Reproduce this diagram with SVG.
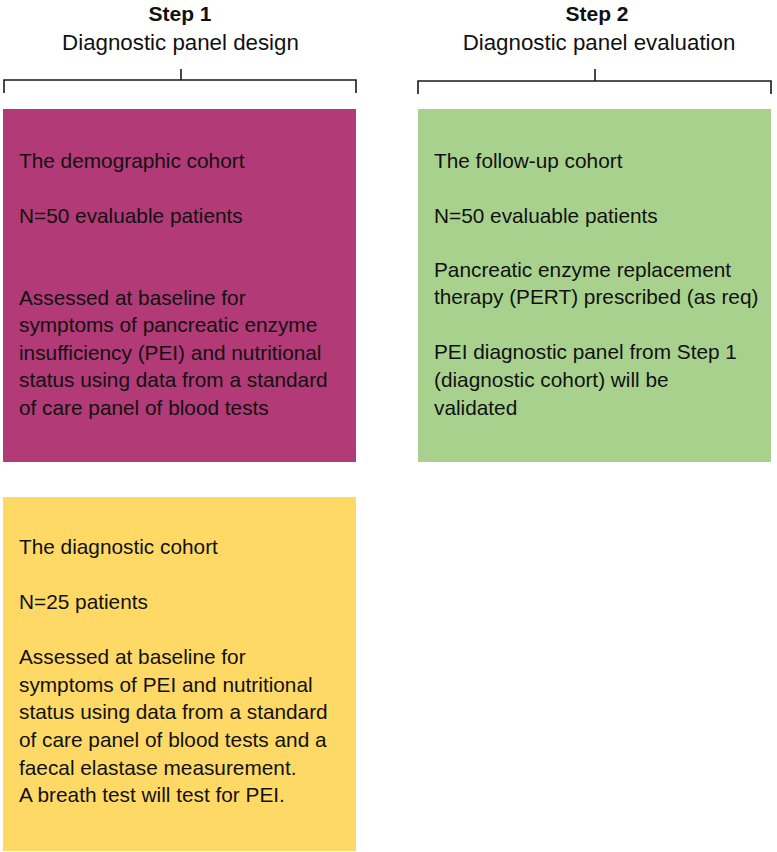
<svg xmlns="http://www.w3.org/2000/svg" width="777" height="852" viewBox="0 0 777 852">
<style>
text{font-family:"Liberation Sans",Arial,sans-serif;fill:#111;}
.step{font-weight:bold;font-size:21px;text-anchor:middle;}
.sub{font-size:22.3px;text-anchor:middle;}
.body{font-size:20.8px;}
.br{fill:none;stroke:#1a1a1a;stroke-width:1.6;}
</style>
<rect width="777" height="852" fill="#ffffff"/>
<g id="header1">
<text class="step" x="180" y="21">Step 1</text>
<text class="sub" x="180.5" y="50">Diagnostic panel design</text>
</g>
<g id="header2">
<text class="step" x="597" y="21">Step 2</text>
<text class="sub" x="599" y="50">Diagnostic panel evaluation</text>
</g>
<g id="connectors">
<path class="br" d="M4 93 V80 H356 V93 M181 69 V80"/>
<path class="br" d="M418 94 V81 H771 V94 M595 69 V81"/>
</g>
<g id="demographic">
<rect x="3" y="109" width="353" height="353" fill="#B23A77"/>
<text class="body" x="19" y="168">The demographic cohort</text>
<text class="body" x="19" y="223">N=50 evaluable patients</text>
<text class="body" x="19" y="305">Assessed at baseline for</text>
<text class="body" x="19" y="332">symptoms of pancreatic enzyme</text>
<text class="body" x="19" y="360">insufficiency (PEI) and nutritional</text>
<text class="body" x="19" y="387">status using data from a standard</text>
<text class="body" x="19" y="415">of care panel of blood tests</text>
</g>
<g id="followup">
<rect x="418" y="109" width="353" height="353" fill="#A9D18E"/>
<text class="body" x="434" y="168">The follow-up cohort</text>
<text class="body" x="434" y="223">N=50 evaluable patients</text>
<text class="body" x="434" y="277">Pancreatic enzyme replacement</text>
<text class="body" x="434" y="304">therapy (PERT) prescribed (as req)</text>
<text class="body" x="434" y="359">PEI diagnostic panel from Step 1</text>
<text class="body" x="434" y="387">(diagnostic cohort) will be</text>
<text class="body" x="434" y="415">validated</text>
</g>
<g id="diagnostic">
<rect x="3" y="497" width="353" height="354" fill="#FFD966"/>
<text class="body" x="19" y="554">The diagnostic cohort</text>
<text class="body" x="19" y="609">N=25 patients</text>
<text class="body" x="19" y="664">Assessed at baseline for</text>
<text class="body" x="19" y="692">symptoms of PEI and nutritional</text>
<text class="body" x="19" y="719">status using data from a standard</text>
<text class="body" x="19" y="747">of care panel of blood tests and a</text>
<text class="body" x="19" y="775">faecal elastase measurement.</text>
<text class="body" x="19" y="802">A breath test will test for PEI.</text>
</g>
</svg>
